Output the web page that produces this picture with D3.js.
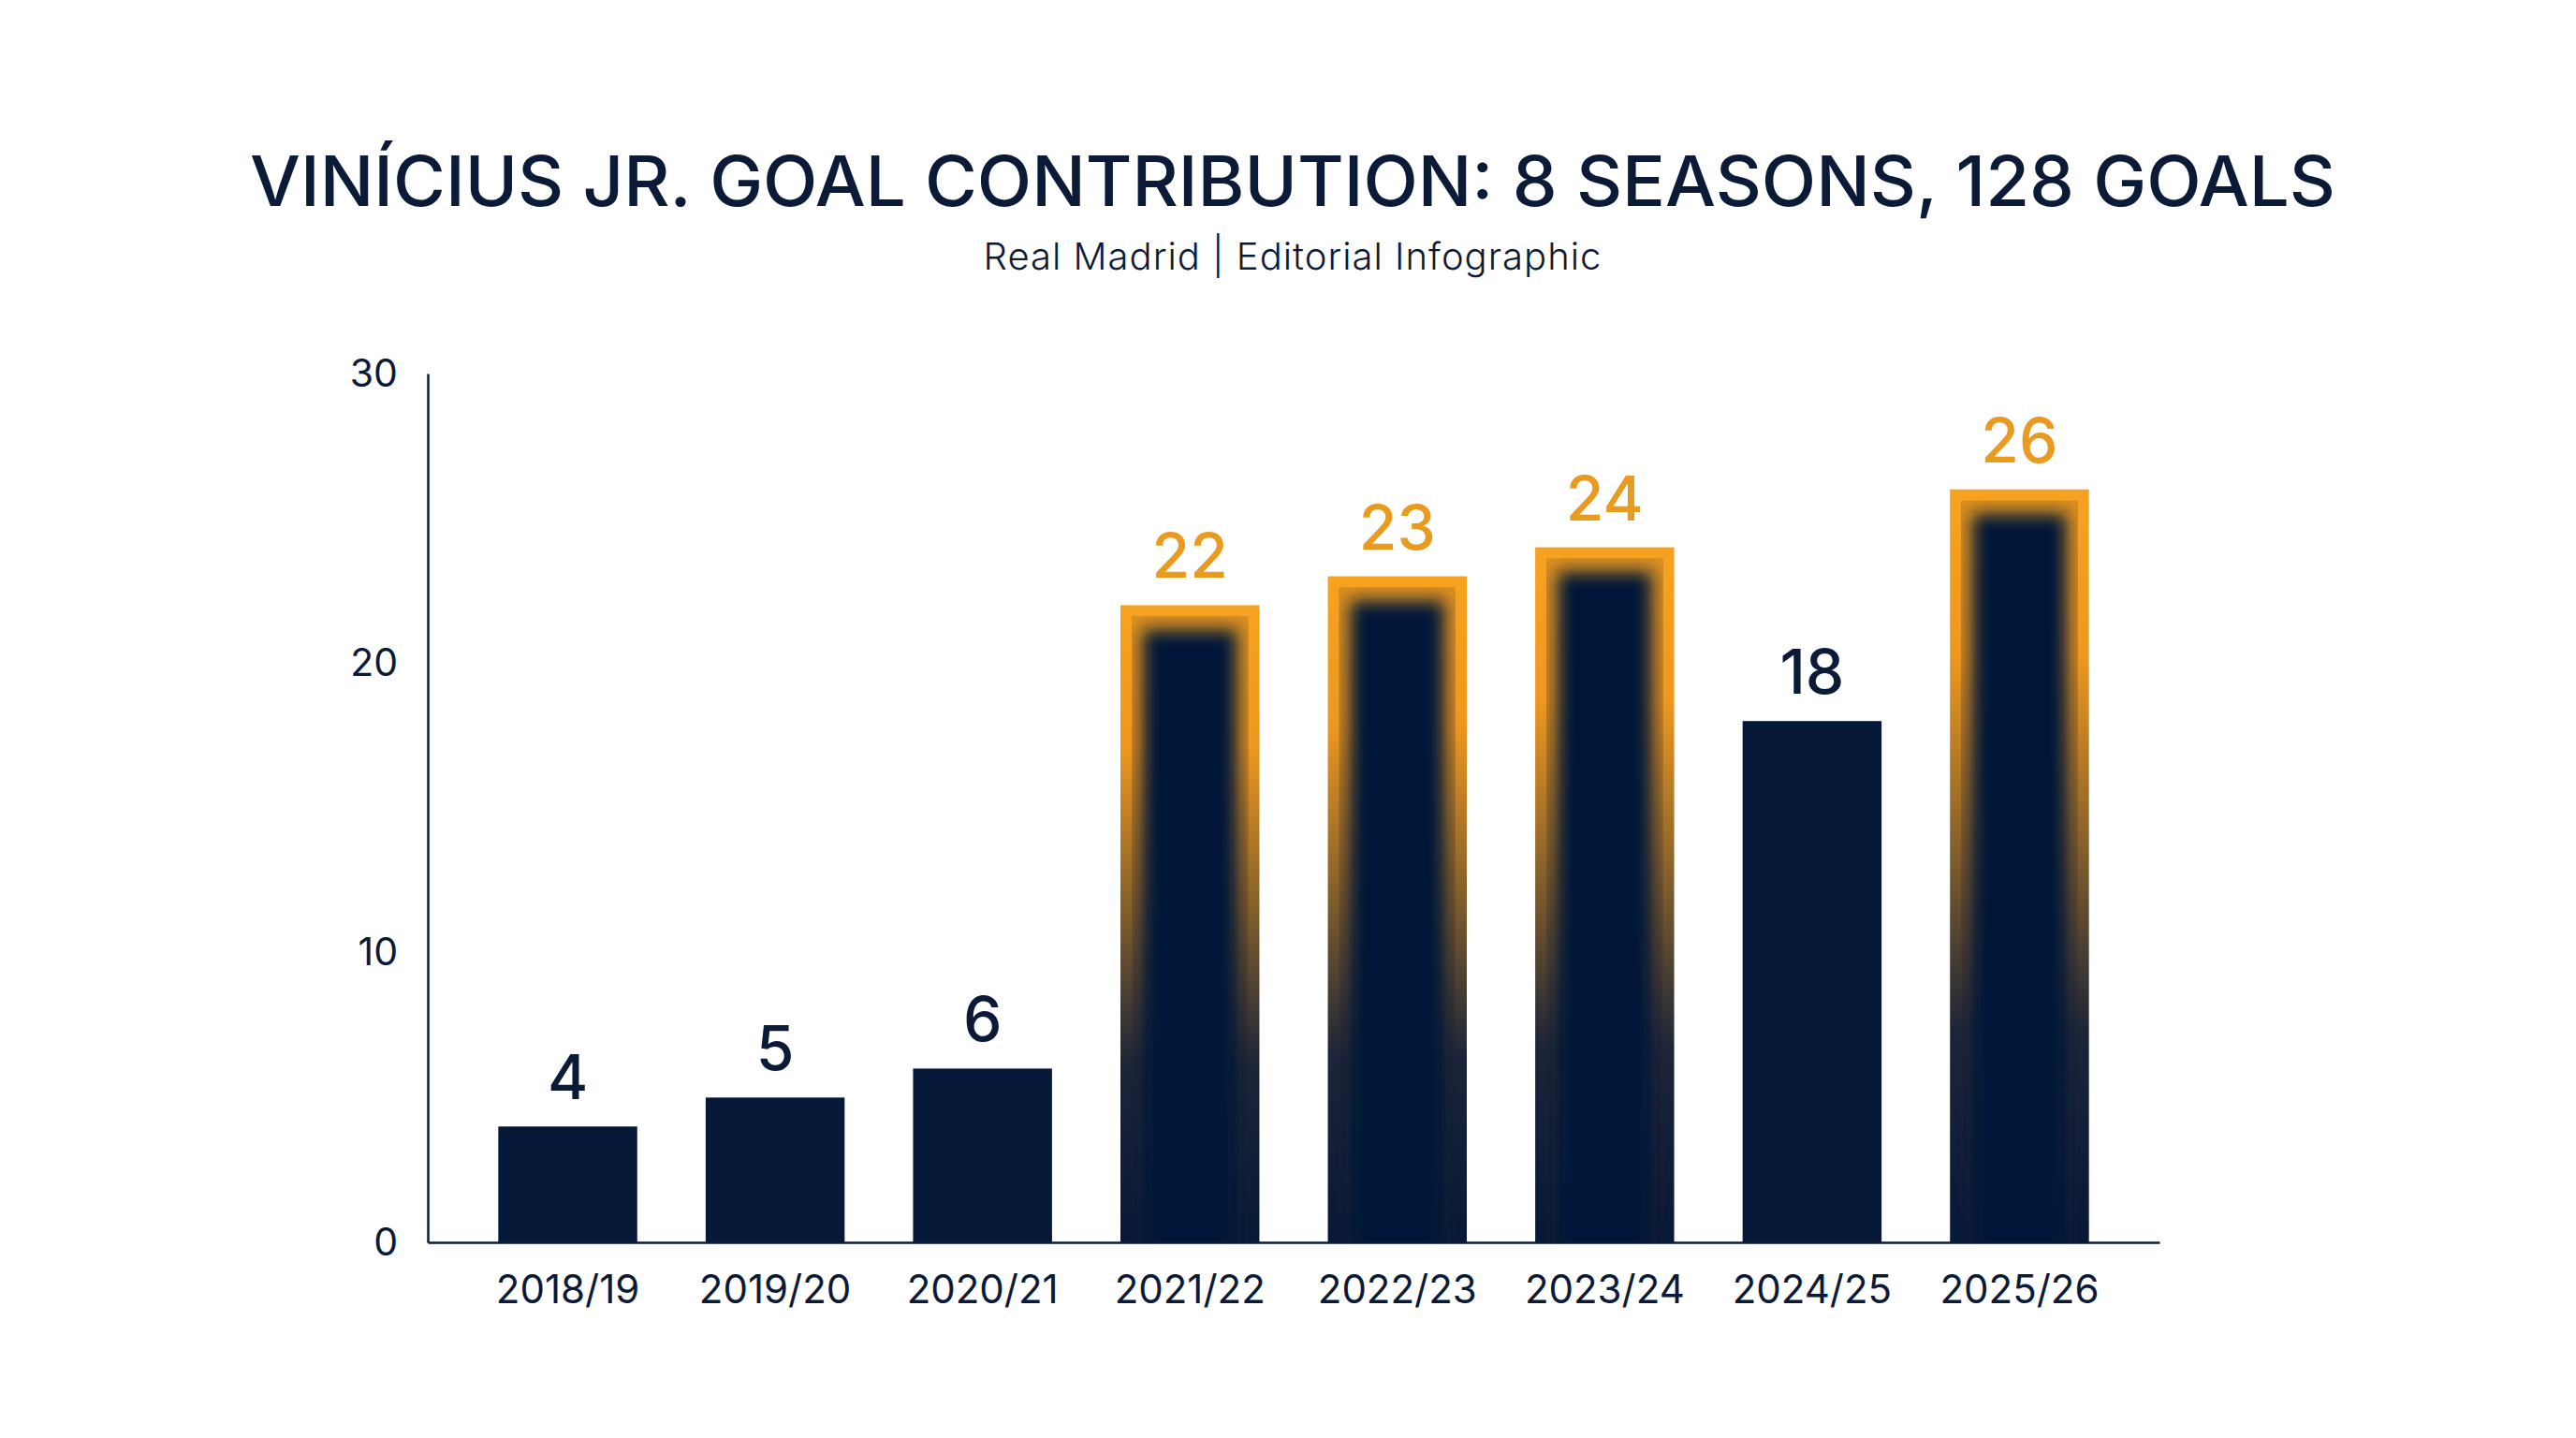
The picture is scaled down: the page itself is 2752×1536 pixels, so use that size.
<!DOCTYPE html>
<html>
<head>
<meta charset="utf-8">
<script src="https://cdn.jsdelivr.net/npm/d3@7"></script>
<style>
	html, body { margin: 0; padding: 0; background: #ffffff; }
	svg { display: block; font-family: Inter, 'Noto Sans', sans-serif; }
</style>
</head>
<body>
<div id="chart"></div>
<script>
// chart data
const seasons = ['2018/19', '2019/20', '2020/21', '2021/22', '2022/23', '2023/24', '2024/25', '2025/26']
const goals = [4, 5, 6, 22, 23, 24, 18, 26]
const highlightSeasons = ['2021/22', '2022/23', '2023/24', '2025/26']
const yTicks = [0, 10, 20, 30]

const W = 2752
const H = 1536
const NAVY = '#061838'
const INK = '#0b1a36'
const BORDER = 12

const rows = seasons.map((s, i) => ({season: s, value: goals[i], hot: highlightSeasons.includes(s)}))

const svg = d3.select('#chart').append('svg')
	.attr('width', W)
	.attr('height', H)

const defs = svg.append('defs')

// border gradient, orange on top fading into the navy
const grad = defs.append('linearGradient')
	.attr('id', 'borderFade')
	.attr('x1', 0).attr('y1', 0).attr('x2', 0).attr('y2', 1)
grad.selectAll('stop')
	.data([[0, '#f7a21f'], [0.22, '#ee981f'], [0.5, '#7a5a2c'], [0.72, '#1c2538'], [1, NAVY]])
	.join('stop')
	.attr('offset', d => d[0])
	.attr('stop-color', d => d[1])

defs.append('filter')
	.attr('id', 'soft')
	.attr('x', '-20%').attr('y', '-20%').attr('width', '140%').attr('height', '140%')
	.append('feGaussianBlur')
	.attr('stdDeviation', 9)

const x = d3.scaleBand()
	.domain(seasons)
	.range([457, 2307])
	.paddingInner(0.33)
	.paddingOuter(0.34)

const y = d3.scaleLinear()
	.domain([0, 30])
	.range([1327, 399])

// Title and subtitle
svg.append('text')
	.attr('x', 1381)
	.attr('y', 220)
	.attr('text-anchor', 'middle')
	.attr('font-size', 74)
	.attr('font-weight', 500)
	.attr('fill', INK)
	.attr('textLength', 2228)
	.attr('lengthAdjust', 'spacingAndGlyphs')
	.text('VINÍCIUS JR. GOAL CONTRIBUTION: 8 SEASONS, 128 GOALS')

svg.append('text')
	.attr('x', 1381)
	.attr('y', 288)
	.attr('text-anchor', 'middle')
	.attr('font-size', 40)
	.attr('font-weight', 300)
	.attr('letter-spacing', 1)
	.attr('fill', INK)
	.text('Real Madrid | Editorial Infographic')

// Bars
const bars = svg.append('g').attr('class', 'bars')

bars.selectAll('rect.plain')
	.data(rows.filter(d => !d.hot))
	.join('rect')
	.attr('class', 'plain')
	.attr('x', d => x(d.season))
	.attr('y', d => y(d.value))
	.attr('width', x.bandwidth())
	.attr('height', d => y(0) - y(d.value))
	.attr('fill', NAVY)

const hot = bars.selectAll('g.hot')
	.data(rows.filter(d => d.hot))
	.join('g')
	.attr('class', 'hot')

hot.each(function (d, i) {
	const g = d3.select(this)
	const bx = x(d.season)
	const by = y(d.value)
	const bw = x.bandwidth()
	const bh = y(0) - by
	const clipId = `inner-${i}`

	defs.append('clipPath')
		.attr('id', clipId)
		.append('rect')
		.attr('x', bx + BORDER)
		.attr('y', by + BORDER)
		.attr('width', bw - BORDER * 2)
		.attr('height', bh - BORDER)

	// outer frame
	g.append('rect')
		.attr('x', bx)
		.attr('y', by)
		.attr('width', bw)
		.attr('height', bh)
		.attr('fill', 'url(#borderFade)')

	// inner glow: gradient underneath, blurred navy on top
	const inner = g.append('g').attr('clip-path', `url(#${clipId})`)
	inner.append('rect')
		.attr('x', bx + BORDER)
		.attr('y', by + BORDER)
		.attr('width', bw - BORDER * 2)
		.attr('height', bh - BORDER)
		.attr('fill', '#3a3426')
	inner.append('rect')
		.attr('x', bx)
		.attr('y', by)
		.attr('width', bw)
		.attr('height', bh)
		.attr('fill', 'url(#borderFade)')
		.attr('opacity', 0.85)
	inner.append('rect')
		.attr('x', bx + BORDER + 12)
		.attr('y', by + BORDER + 14)
		.attr('width', bw - (BORDER + 12) * 2)
		.attr('height', bh - BORDER)
		.attr('fill', NAVY)
		.attr('filter', 'url(#soft)')
})

// Value labels
svg.append('g')
	.selectAll('text')
	.data(rows)
	.join('text')
	.attr('x', d => x(d.season) + x.bandwidth() / 2)
	.attr('y', d => y(d.value) - 29)
	.attr('text-anchor', 'middle')
	.attr('font-size', 66)
	.attr('font-weight', 500)
	.attr('fill', d => d.hot ? '#ea9a1f' : INK)
	.text(d => d.value)

// Axes
const yAxis = svg.append('g')
	.attr('transform', `translate(${x.range()[0]},0)`)
	.call(d3.axisLeft(y).tickValues(yTicks).tickSize(0).tickPadding(32))
yAxis.select('.domain').attr('stroke', INK).attr('stroke-width', 2.5)
yAxis.selectAll('text')
	.attr('font-size', 41)
	.attr('font-family', 'Inter, sans-serif')
	.attr('fill', INK)

const xAxis = svg.append('g')
	.attr('transform', `translate(0,${y(0)})`)
	.call(d3.axisBottom(x).tickSize(0).tickPadding(35))
xAxis.select('.domain').attr('stroke', INK).attr('stroke-width', 2.5)
xAxis.selectAll('text')
	.attr('font-size', 42)
	.attr('font-family', 'Inter, sans-serif')
	.attr('fill', INK)
</script>
</body>
</html>
